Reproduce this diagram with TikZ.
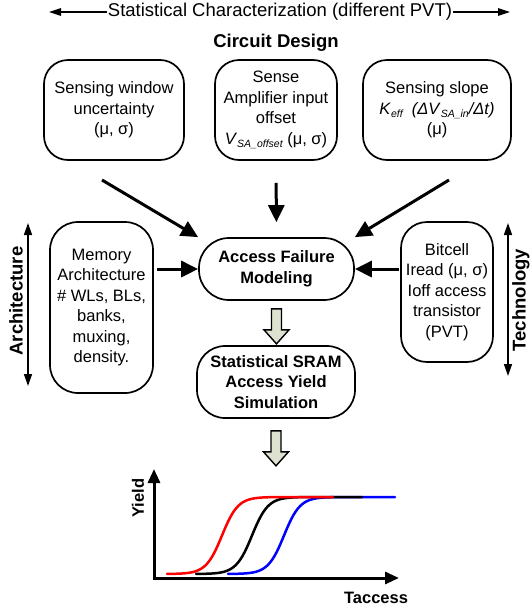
\documentclass[tikz,border=0pt]{standalone}
\usepackage{fontspec}
\setmainfont{Liberation Sans}
\usetikzlibrary{arrows.meta,calc}
\newcommand\fsb{\fontsize{16.5}{20.5}\selectfont}
\newcommand\fsl{\fontsize{18.5}{22}\selectfont}
\newcommand\subsc[1]{\raisebox{-0.35ex}{\fontsize{10.5}{11}\selectfont\itshape #1}}
\definecolor{hollowfill}{RGB}{221,226,208}
\begin{document}
\begin{tikzpicture}[x=1pt,y=-1pt,
  rbox/.style={draw, line width=1.7pt, align=center, font=\fsb, inner sep=0pt, fill=white},
  bigarrow/.style={line width=3pt, -{Triangle[length=17pt,width=16pt]}},
  thinarrow/.style={line width=1.3pt, -{Triangle[length=12pt,width=7.5pt]}},
  sidearrow/.style={line width=1.5pt, {Triangle[length=12pt,width=8pt]}-{Triangle[length=12pt,width=8pt]}},
  hollow/.style={draw, line width=1.4pt, fill=hollowfill, line join=miter},
  curve/.style={line width=2.5pt, line cap=round}]
\useasboundingbox (0,0) rectangle (532,608);

% title
\node[font=\fsl, inner sep=0.5pt] (title) at (280,12) {Statistical Characterization (different PVT)};
\coordinate (tl) at (49,12);
\coordinate (tr) at (510,12);
\draw[thinarrow] (title.west) -- (tl);
\draw[thinarrow] (title.east) -- (tr);
\node[font=\fsl\bfseries] (cd) at (276,43) {Circuit Design};

% circuit design boxes
\node[rbox, rounded corners=24pt, minimum width=140pt, minimum height=100pt] (b1) at (114,110)
  {Sensing window\\uncertainty\\(μ, σ)};
\node[rbox, rounded corners=24pt, minimum width=122pt, minimum height=100pt] (b2) at (276,110)
  {Sense\\Amplifier input\\offset\\\textit{V}\subsc{SA\_offset} (μ, σ)};
\node[rbox, rounded corners=24pt, minimum width=148pt, minimum height=100pt] (b3) at (437,110)
  {Sensing slope\\\textit{K}\subsc{eff}\ \ \textit{(ΔV}\subsc{SA\_in}\textit{/Δt)}\\(μ)};

% central
\node[rbox, rounded corners=30pt, minimum width=155pt, minimum height=62pt, font=\fsb\bfseries] (afm) at (276.5,269)
  {Access Failure\\Modeling};
\node[rbox, rounded corners=28pt, minimum width=103pt, minimum height=171pt] (mem) at (101.5,307.5)
  {Memory\\Architecture\\\# WLs, BLs,\\banks,\\muxing,\\density.};
\node[rbox, rounded corners=26pt, minimum width=92pt, minimum height=140pt] (bit) at (447,292)
  {Bitcell\\Iread (μ, σ)\\Ioff access\\transistor\\(PVT)};
\node[rbox, rounded corners=28pt, minimum width=158pt, minimum height=72pt, font=\fsb\bfseries] (sram) at (276,382)
  {Statistical SRAM\\Access Yield\\Simulation};

% side labels
\node[rotate=90, font=\fsl\bfseries] (arch) at (16,301) {Architecture};
\coordinate (archT) at (28,223);
\coordinate (archB) at (28,386);
\draw[sidearrow] (archT) -- (archB);
\node[rotate=90, font=\fsl\bfseries] (tech) at (521,300) {Technology};
\coordinate (techT) at (508,223);
\coordinate (techB) at (508,376);
\draw[sidearrow] (techT) -- (techB);

% arrows into AFM
\coordinate (d1) at (102,180);
\coordinate (d3) at (449,180);
\draw[bigarrow] (d1) -- (afm.north west);
\draw[bigarrow] (d3) -- (afm.north east);
\draw[bigarrow, shorten <=22pt, shorten >=15pt] (b2.south) -- (afm.north);
\draw[bigarrow] ([xshift=3pt]mem.east |- afm.west) -- (afm.west);
\draw[bigarrow] ([xshift=-1pt]bit.west |- afm.east) -- (afm.east);

% hollow arrows
\path (afm.south) ++(0,8) coordinate (h1);
\draw[hollow] ($(h1)+(-5,0)$) -- ++(10,0) -- ++(0,21) -- ++(7.5,0) -- ++(-12.5,14) -- ++(-12.5,-14) -- ++(7.5,0) -- cycle;
\path (sram.south) ++(0,12) coordinate (h2);
\draw[hollow] ($(h2)+(-5,0)$) -- ++(10,0) -- ++(0,21) -- ++(7.5,0) -- ++(-12.5,14) -- ++(-12.5,-14) -- ++(7.5,0) -- cycle;

% plot
\coordinate (O) at (154,578);
\coordinate (Ytop) at (154,469);
\coordinate (Xend) at (399,578);
\draw[curve, blue] plot[domain=228:395, samples=80] ({\x},{574-77/(1+exp(-(\x-284)/8))});
\draw[curve, black] plot[domain=196:362, samples=80] ({\x},{574-77/(1+exp(-(\x-252)/8))});
\draw[curve, red] plot[domain=167:333, samples=80] ({\x},{574-77/(1+exp(-(\x-222)/8))});
\draw[line width=3pt, {Triangle[length=14pt,width=12pt]}-{Triangle[length=14pt,width=12pt]}] (Ytop) -- (O) -- (Xend);
\node[rotate=90, font=\fsb\bfseries] (ylab) at (138,498) {Yield};
\node[font=\fsb\bfseries] (xlab) at (376,598) {Taccess};
\end{tikzpicture}
\end{document}
